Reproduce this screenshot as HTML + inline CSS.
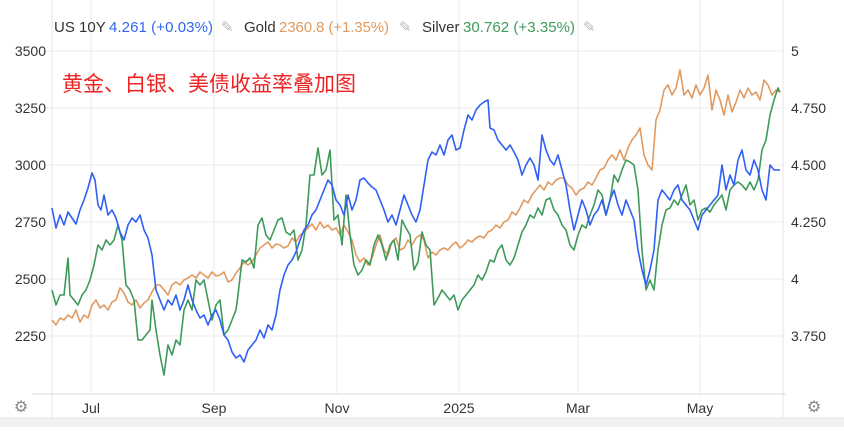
<!DOCTYPE html>
<html><head><meta charset="utf-8"><style>
body{margin:0;background:#fff;width:844px;height:427px;overflow:hidden;font-family:"Liberation Sans",Arial,sans-serif}
</style></head><body>
<svg width="844" height="427" xmlns="http://www.w3.org/2000/svg" font-family="Liberation Sans, Arial, sans-serif">
<rect x="0" y="418" width="844" height="9" fill="#f2f2f2"/>
<line x1="0" y1="418" x2="844" y2="418" stroke="#e4e4e4"/>
<g stroke="#ebebeb" stroke-width="1">
<line x1="91" y1="0" x2="91" y2="394"/><line x1="214" y1="0" x2="214" y2="394"/><line x1="337" y1="0" x2="337" y2="394"/><line x1="459" y1="0" x2="459" y2="394"/><line x1="578" y1="0" x2="578" y2="394"/><line x1="700" y1="0" x2="700" y2="394"/>
<line x1="45" y1="51" x2="783" y2="51"/><line x1="45" y1="108" x2="783" y2="108"/><line x1="45" y1="165" x2="783" y2="165"/><line x1="45" y1="222" x2="783" y2="222"/><line x1="45" y1="279" x2="783" y2="279"/><line x1="45" y1="336" x2="783" y2="336"/>
</g>
<line x1="52" y1="0" x2="52" y2="418" stroke="#e6e6e6"/>
<line x1="783" y1="0" x2="783" y2="418" stroke="#e6e6e6"/>
<line x1="32" y1="394" x2="786" y2="394" stroke="#dcdcdc"/>
<g font-size="14" fill="#333" text-anchor="end">
<text x="46" y="56">3500</text><text x="46" y="113">3250</text><text x="46" y="170">3000</text><text x="46" y="227">2750</text><text x="46" y="284">2500</text><text x="46" y="341">2250</text>
</g>
<g font-size="14" fill="#333">
<text x="791" y="56">5</text><text x="791" y="113">4.750</text><text x="791" y="170">4.500</text><text x="791" y="227">4.250</text><text x="791" y="284">4</text><text x="791" y="341">3.750</text>
</g>
<g font-size="14" fill="#333" text-anchor="middle">
<text x="91" y="413">Jul</text><text x="214" y="413">Sep</text><text x="337" y="413">Nov</text><text x="459" y="413">2025</text><text x="578" y="413">Mar</text><text x="700" y="413">May</text>
</g>
<g font-size="16" fill="#888" text-anchor="middle"><text x="21" y="412">⚙</text><text x="814" y="412">⚙</text></g>
<g font-size="15">
<text x="54" y="32" fill="#333">US 10Y</text><text x="109" y="32" fill="#3366ee" textLength="104">4.261 (+0.03%)</text><text x="221" y="32" fill="#bbb">✎</text>
<text x="244" y="32" fill="#333">Gold</text><text x="279" y="32" fill="#e09a60" textLength="110">2360.8 (+1.35%)</text><text x="399" y="32" fill="#bbb">✎</text>
<text x="422" y="32" fill="#333">Silver</text><text x="463" y="32" fill="#3e9a5a" textLength="112">30.762 (+3.35%)</text><text x="583" y="32" fill="#bbb">✎</text>
</g>
<text x="62" y="91" font-size="21" fill="#ee2222" font-family="Liberation Sans, Noto Sans CJK SC, sans-serif">黄金、白银、美债收益率叠加图</text>
<polyline fill="none" stroke="#e09a60" stroke-width="1.6" stroke-linejoin="round" points="52,320 56,325 60,318 64,320 68,315 72,318 76,310 80,322 84,315 88,318 92,305 96,300 100,308 104,305 108,310 112,302 116,300 120,288 124,293 128,302 132,305 136,300 140,308 144,303 148,300 152,292 156,285 160,285 164,290 168,295 172,285 176,282 180,285 184,280 188,278 192,275 196,278 200,272 204,275 208,278 212,272 216,276 220,275 224,272 228,282 232,280 236,273 240,268 244,262 248,265 252,262 256,255 260,248 264,245 268,242 272,248 276,244 280,245 284,248 288,246 292,238 296,242 300,235 304,232 308,228 312,224 316,230 320,222 324,228 328,225 332,230 336,228 340,235 344,225 348,232 352,240 356,255 360,262 364,258 368,265 372,258 376,245 380,235 384,250 388,255 392,242 396,238 400,250 404,248 408,240 412,245 416,238 420,235 424,240 428,258 432,252 436,255 440,250 444,248 448,250 452,245 456,242 460,248 464,245 468,240 472,242 476,238 480,236 484,238 488,232 492,230 496,225 500,228 504,222 508,220 512,212 516,215 520,208 524,200 528,203 532,195 536,190 540,185 544,190 548,182 552,185 556,180 560,178 564,178 568,185 572,188 576,195 580,190 584,188 588,182 592,185 596,178 600,170 604,168 608,160 612,155 616,160 620,150 624,160 628,148 632,140 636,135 640,128 644,155 648,165 652,170 656,120 660,110 664,90 668,85 672,95 676,88 680,70 684,95 688,90 692,98 696,85 700,95 704,88 708,75 712,110 716,90 720,100 724,115 728,95 732,112 736,102 740,90 744,98 748,88 752,95 756,92 760,100 764,80 768,85 772,95 776,90 780,92"/>
<polyline fill="none" stroke="#3e9a5a" stroke-width="1.6" stroke-linejoin="round" points="52,290 56,305 60,295 64,295 68,258 70,295 74,300 78,305 82,295 86,290 90,280 94,265 98,245 102,250 106,240 110,245 114,240 118,225 122,240 126,285 130,290 134,300 138,340 142,340 146,335 150,330 152,300 156,330 160,355 164,375 168,345 172,355 176,340 180,345 184,310 188,300 192,310 196,280 200,285 204,280 208,300 212,320 216,305 220,300 224,335 228,330 232,320 236,310 238,295 242,260 246,262 250,258 254,268 258,225 262,218 266,235 270,240 274,230 278,220 282,218 286,232 290,235 294,230 298,260 302,250 306,225 310,175 314,175 318,148 322,175 326,170 330,150 334,220 338,215 342,245 346,195 350,235 354,265 358,275 362,270 366,260 370,265 374,245 378,235 382,245 386,260 390,245 394,240 398,260 402,220 406,228 410,235 414,270 418,262 422,232 426,245 430,250 434,305 438,298 442,290 446,295 450,300 454,295 458,310 462,300 466,295 470,290 474,285 478,275 482,280 486,272 490,260 494,262 498,250 502,245 506,260 510,265 514,258 518,245 522,232 526,225 530,215 534,218 538,208 542,215 546,200 550,198 554,210 558,215 562,225 566,230 570,245 574,250 578,235 582,225 586,228 590,215 594,205 598,190 602,195 606,215 610,200 614,175 618,182 622,170 626,160 630,162 634,165 638,190 642,250 646,290 650,280 654,290 658,250 662,225 666,210 670,208 674,200 678,205 682,195 686,185 690,205 694,200 698,220 702,210 706,208 710,212 714,205 718,200 722,195 726,210 730,190 734,185 738,182 742,185 746,190 750,182 754,190 758,180 762,150 766,140 770,115 774,100 778,88 780,92"/>
<polyline fill="none" stroke="#2f5ff5" stroke-width="1.6" stroke-linejoin="round" points="52,208 56,228 60,215 64,225 68,212 72,218 76,224 80,210 84,200 88,188 92,173 95,180 98,205 101,210 104,195 108,215 112,210 116,218 120,232 124,240 128,225 132,218 136,222 140,215 144,230 148,238 152,255 156,290 160,300 164,310 168,300 172,305 176,295 180,310 184,300 188,285 192,300 196,310 200,318 204,315 208,325 212,315 216,310 220,320 224,335 228,340 232,352 236,358 240,355 244,362 248,350 252,345 256,340 260,330 264,338 268,325 272,330 276,315 280,290 284,275 288,265 292,260 296,252 300,240 304,230 308,225 312,215 316,210 320,200 324,190 328,180 332,185 336,200 340,205 344,215 348,195 352,210 356,200 360,180 364,178 368,183 372,187 376,190 380,200 384,210 388,222 392,215 396,225 400,210 404,195 408,205 412,215 416,222 420,210 424,185 428,160 432,152 436,155 440,145 444,155 448,140 452,135 456,150 460,148 464,130 468,115 472,120 476,110 480,105 484,102 488,100 490,128 494,130 498,140 502,145 506,150 510,145 514,152 518,160 522,175 526,165 530,158 534,165 538,180 542,135 546,150 550,160 554,165 558,155 562,170 566,185 570,210 574,230 578,215 582,200 586,210 590,225 594,215 598,210 602,200 606,215 610,200 614,190 618,205 622,215 626,200 630,210 634,220 638,250 642,270 646,285 650,270 654,250 658,200 662,190 666,195 670,200 674,190 678,185 682,200 686,205 690,210 694,220 698,230 702,215 706,210 710,205 714,200 718,195 722,165 726,190 730,175 734,185 738,160 742,150 746,170 750,175 754,160 758,170 762,190 766,200 770,165 774,170 780,170"/>
</svg>
</body></html>
